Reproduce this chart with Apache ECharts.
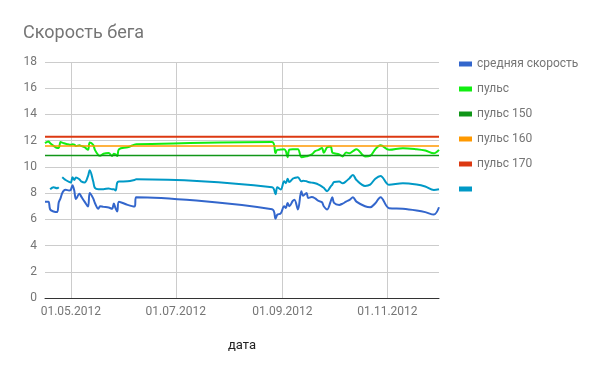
<!DOCTYPE html>
<html><head><meta charset="utf-8">
<script src="https://cdn.jsdelivr.net/npm/echarts@6/dist/echarts.min.js"></script>
<style>html,body{margin:0;padding:0;background:#fff}#c{width:600px;height:371px}</style>
</head><body><div id="c"></div>
<script>
const dates = [
'2012-04-16','2012-04-18','2012-04-19','2012-04-21','2012-04-23','2012-04-24','2012-04-25','2012-04-26','2012-04-27','2012-04-28',
'2012-04-30','2012-05-01','2012-05-02','2012-05-03','2012-05-04','2012-05-06','2012-05-07','2012-05-09','2012-05-11','2012-05-12',
'2012-05-14','2012-05-15','2012-05-17','2012-05-18','2012-05-20','2012-05-23','2012-05-25','2012-05-26','2012-05-27','2012-05-28',
'2012-05-29','2012-06-03','2012-06-07','2012-06-08',
'2012-08-26','2012-08-28','2012-08-29','2012-08-31','2012-09-02','2012-09-03','2012-09-04','2012-09-05','2012-09-07','2012-09-08',
'2012-09-10','2012-09-12','2012-09-13','2012-09-15','2012-09-16','2012-09-18','2012-09-20','2012-09-22','2012-09-24','2012-09-25',
'2012-09-27','2012-09-29','2012-09-30','2012-10-01','2012-10-04','2012-10-06','2012-10-08','2012-10-10','2012-10-12','2012-10-14',
'2012-10-19','2012-10-22','2012-10-25','2012-10-28','2012-11-02','2012-11-10','2012-11-18','2012-11-23','2012-11-28','2012-12-01'
];
const avgSpeed = [
7.35,7.35,6.75,6.6,6.55,7.3,7.6,8.0,8.2,8.25,
8.2,8.25,8.6,8.2,7.55,7.95,7.75,7.35,6.97,8.0,
7.6,7.25,6.8,7.0,6.95,6.9,6.8,7.2,6.85,6.6,
7.35,7.1,6.97,7.69,
6.77,6.05,6.35,6.45,7.0,6.87,7.25,7.0,7.4,7.5,
6.75,8.14,7.8,8.0,7.63,7.7,7.6,7.4,7.3,7.0,
6.75,7.35,7.69,7.25,7.1,7.2,7.35,7.48,7.69,7.35,
7.0,6.92,7.23,7.69,6.85,6.8,6.67,6.55,6.36,6.92
];
const pulse = [
11.81,11.93,11.81,11.6,11.45,11.45,11.9,11.85,11.8,11.76,
11.7,11.68,11.73,11.7,11.6,11.65,11.6,11.5,11.3,11.86,
11.68,11.3,10.9,10.85,11.0,11.05,10.84,11.0,10.95,10.84,
11.35,11.5,11.7,11.73,
11.9,11.05,11.3,11.32,11.35,11.2,10.74,11.32,11.35,11.35,
11.35,10.74,10.75,10.8,10.85,10.95,11.2,11.3,11.45,11.07,
11.5,11.55,11.1,11.04,10.95,10.8,11.1,11.04,11.2,11.35,
10.8,10.85,11.35,11.65,11.3,11.43,11.35,11.25,11.04,11.3
];
const unnamed = [
null,null,8.3,8.45,8.37,8.45,null,9.21,9.1,9.0,
8.85,8.8,9.21,9.0,9.2,9.05,8.9,8.8,9.3,9.75,
8.9,8.4,8.3,8.3,8.3,8.35,8.3,8.3,8.2,8.8,
8.88,8.9,9.0,9.05,
8.45,7.92,8.45,8.27,8.9,8.75,9.1,8.85,9.1,9.15,
9.21,8.9,8.95,8.9,8.85,8.8,8.75,8.65,8.5,8.4,
8.15,8.5,8.65,8.85,8.88,8.75,8.9,9.14,9.39,9.0,
8.55,8.65,9.1,9.31,8.63,8.75,8.65,8.5,8.24,8.3
];
const pulse150 = 10.86;
const pulse160 = 11.6;
const pulse170 = 12.3;
const xTickDates = ['2012-05-01','2012-07-01','2012-09-01','2012-11-01'];
const seriesNames = ['средняя скорость','пульс','пульс 150','пульс 160','пульс 170',' '];
const colors = ['#3366cc','#11ee11','#109618','#ff9900','#dc3912','#0099c6'];

function ts(s){const p=s.split('-');return new Date(+p[0],+p[1]-1,+p[2]).getTime();}
const t = dates.map(ts);
const pairs = arr => arr.map((v,i)=>[t[i], v]);
const flat = v => [[t[0], v],[t[t.length-1], v]];

const font = 'Roboto, Arial, sans-serif';
const chart = echarts.init(document.getElementById('c'), null, {renderer:'canvas'});
const lineS = (name, data, color, w) => ({
  name, type:'line', data, showSymbol:false, symbol:'none', smooth: 0.35,
  connectNulls:false, animation:false,
  lineStyle:{color, width:w}, itemStyle:{color}
});
chart.setOption({
  animation:false,
  title:{text:'Скорость бега', left:18, top:19,
    textStyle:{fontFamily:font, fontSize:18, fontWeight:'normal', color:'#757575'}},
  legend:{orient:'vertical', left:454, top:52, itemWidth:13, itemHeight:5, itemGap:11,
    icon:'rect', data:seriesNames,
    textStyle:{fontFamily:font, fontSize:12, color:'#757575', lineHeight:14, height:14}},
  grid:{left:45, right:161, top:62, bottom:73},
  xAxis:{type:'time', min:t[0], max:t[t.length-1],
    name:'дата', nameLocation:'middle', nameGap:41,
    nameTextStyle:{fontFamily:font, fontSize:13, color:'#222'},
    axisLine:{show:true, lineStyle:{color:'#333', width:1}},
    axisTick:{show:false, customValues: xTickDates.map(ts)},
    axisLabel:{customValues: xTickDates.map(ts), formatter:'{dd}.{MM}.{yyyy}',
      fontFamily:font, fontSize:12, color:'#757575', margin:8, hideOverlap:false},
    splitLine:{show:true, lineStyle:{color:'#cccccc', width:1}}
  },
  yAxis:{type:'value', min:0, max:18, interval:2,
    axisLine:{show:false}, axisTick:{show:false},
    axisLabel:{fontFamily:font, fontSize:12, color:'#757575', margin:8},
    splitLine:{lineStyle:{color:'#cccccc', width:1}}
  },
  series:[
    lineS(seriesNames[0], pairs(avgSpeed), colors[0], 2),
    lineS(seriesNames[1], pairs(pulse), colors[1], 2),
    lineS(seriesNames[2], flat(pulse150), colors[2], 1.5),
    lineS(seriesNames[3], flat(pulse160), colors[3], 1.5),
    lineS(seriesNames[4], flat(pulse170), colors[4], 2),
    lineS(seriesNames[5], pairs(unnamed), colors[5], 2)
  ]
});
</script></body></html>
